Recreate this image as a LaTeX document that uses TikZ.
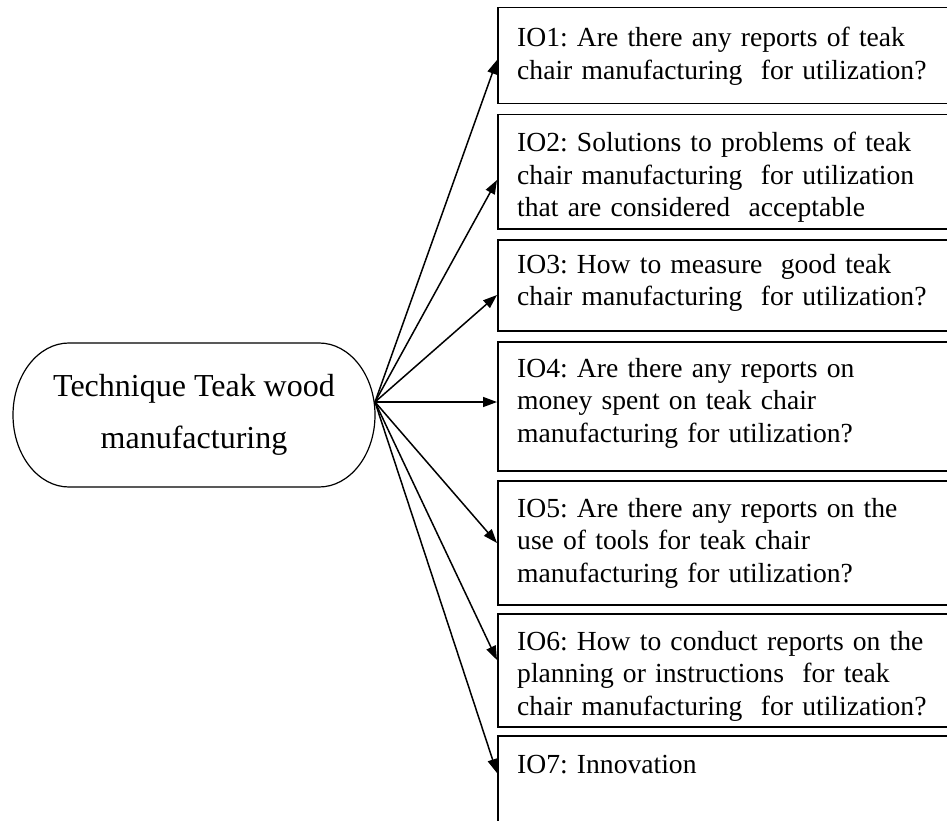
\documentclass[tikz,border=0pt]{standalone}
\usepackage{fontspec}
\setmainfont{Liberation Serif}
\usetikzlibrary{arrows.meta}
\frenchspacing

\begin{document}
\begin{tikzpicture}[x=1pt,y=-1pt,
  iobox/.style={draw, line width=1.5pt, anchor=north west, inner sep=0pt,
    minimum width=600pt},
  iotext/.style={anchor=base west, inner sep=0pt, text width=430pt, align=left,
    font=\fontsize{27.6}{32.5}\selectfont},
  srcnode/.style={minimum width=362pt, minimum height=144pt, align=center,
    inner sep=0pt, font=\fontsize{32}{52}\selectfont},
  outline/.style={line width=1.2pt},
  link/.style={line width=1.5pt, -{Triangle[length=14pt,width=10pt]}}]

\useasboundingbox (0,0) rectangle (947,821);
\clip (0,0) rectangle (947,821);

% central topic: a box with elliptical ends
\node[srcnode] (src) at (194,415) {Technique Teak wood\\manufacturing};
\draw[outline] (69,343) -- (319,343)
  arc[start angle=-90, end angle=90, x radius=56, y radius=72]
  -- (69,487)
  arc[start angle=90, end angle=270, x radius=56, y radius=72]
  -- cycle;
\coordinate (hub) at (375,402);

% question boxes
\node[iobox, minimum height=96pt]  (b1) at (497,7)   {};
\node[iobox, minimum height=114pt] (b2) at (497,114) {};
\node[iobox, minimum height=91pt]  (b3) at (497,239) {};
\node[iobox, minimum height=129pt] (b4) at (497,341) {};
\node[iobox, minimum height=124pt] (b5) at (497,480) {};
\node[iobox, minimum height=113pt] (b6) at (497,613) {};
\node[iobox, minimum height=110pt] (b7) at (497,735) {};

% box texts
\node[iotext] (t1) at ([xshift=20pt,yshift=-40pt]b1.north west)
  {IO1: Are there any reports of teak\\chair manufacturing \ for utilization?};
\node[iotext] (t2) at ([xshift=20pt,yshift=-38pt]b2.north west)
  {IO2: Solutions to problems of teak\\chair manufacturing \ for utilization\\that are considered \ acceptable};
\node[iotext] (t3) at ([xshift=20pt,yshift=-34pt]b3.north west)
  {IO3: How to measure \ good teak\\chair manufacturing \ for utilization?};
\node[iotext] (t4) at ([xshift=20pt,yshift=-36pt]b4.north west)
  {IO4: Are there any reports on\\money spent on teak chair\\manufacturing for utilization?};
\node[iotext] (t5) at ([xshift=20pt,yshift=-37pt]b5.north west)
  {IO5: Are there any reports on the\\use of tools for teak chair\\manufacturing for utilization?};
\node[iotext] (t6) at ([xshift=20pt,yshift=-37pt]b6.north west)
  {IO6: How to conduct reports on the\\planning or instructions \ for teak\\chair manufacturing \ for utilization?};
\node[iotext] (t7) at ([xshift=20pt,yshift=-38pt]b7.north west)
  {IO7: Innovation};

% connectors
\draw[link] (hub) -- ([yshift=-53pt]b1.north west);
\draw[link] (hub) -- ([yshift=-66pt]b2.north west);
\draw[link] (hub) -- ([yshift=-56pt]b3.north west);
\draw[link] (hub) -- ([yshift=-61pt]b4.north west);
\draw[link] (hub) -- ([yshift=-63pt]b5.north west);
\draw[link] (hub) -- ([yshift=-47pt]b6.north west);
\draw[link] (hub) -- ([yshift=-38pt]b7.north west);
\end{tikzpicture}
\end{document}
